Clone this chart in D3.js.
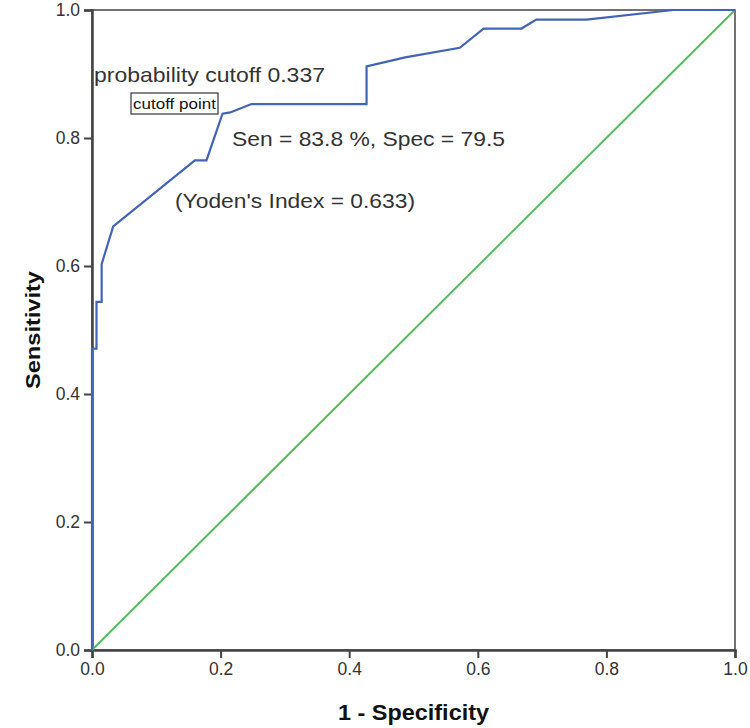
<!DOCTYPE html>
<html>
<head>
<meta charset="utf-8">
<title>ROC curve</title>
<script src="https://d3js.org/d3.v7.min.js"></script>
<style>
body { margin: 0; background: #fff; }
text { font-family: "Liberation Sans", Arial, sans-serif; fill: #333; }
</style>
</head>
<body>
<svg width="750" height="728"></svg>
<script>
// ROC points (1 - specificity, sensitivity)
var fpr  = [0, 0, 0.007, 0.007, 0.015, 0.015, 0.033, 0.160, 0.178, 0.203, 0.215, 0.248, 0.427, 0.427, 0.487, 0.572, 0.609, 0.668, 0.691, 0.769, 0.904, 1];
var sens = [0, 0.471, 0.471, 0.544, 0.544, 0.603, 0.662, 0.765, 0.765, 0.838, 0.840, 0.853, 0.853, 0.912, 0.926, 0.941, 0.971, 0.971, 0.985, 0.985, 1.0, 1];
var ticks = [0, 0.2, 0.4, 0.6, 0.8, 1.0];

var svg = d3.select("svg");

var x = d3.scaleLinear().domain([0, 1]).range([92, 735]);
var y = d3.scaleLinear().domain([0, 1]).range([650, 10]);

// frame
svg.append("rect")
  .attr("x", x(0)).attr("y", y(1))
  .attr("width", x(1) - x(0)).attr("height", y(0) - y(1))
  .attr("fill", "none").attr("stroke", "#444").attr("stroke-width", 1.5);

var xAxis = svg.append("g")
  .attr("transform", "translate(0," + y(0) + ")")
  .call(d3.axisBottom(x).tickValues(ticks).tickFormat(d3.format(".1f")).tickSize(8).tickPadding(5));
var yAxis = svg.append("g")
  .attr("transform", "translate(" + x(0) + ",0)")
  .call(d3.axisLeft(y).tickValues(ticks).tickFormat(d3.format(".1f")).tickSize(8).tickPadding(4));

[xAxis, yAxis].forEach(function(g) {
  g.attr("font-size", 17.5);
  g.select(".domain").attr("stroke", "#444").attr("stroke-width", 2.5);
  g.selectAll(".tick line").attr("stroke", "#444").attr("stroke-width", 2);
  g.selectAll(".tick text").style("fill", "#333");
});

// reference diagonal
svg.append("line")
  .attr("x1", x(0)).attr("y1", y(0))
  .attr("x2", x(1)).attr("y2", y(1))
  .attr("stroke", "#55bb5e").attr("stroke-width", 2);

// roc curve
var pts = fpr.map(function(d, i) { return [d, sens[i]]; });
svg.append("path")
  .datum(pts)
  .attr("fill", "none")
  .attr("stroke", "#4264b6")
  .attr("stroke-width", 2.2)
  .attr("d", d3.line().x(function(d) { return x(d[0]); }).y(function(d) { return y(d[1]); }));

// axis titles
svg.append("text")
  .attr("x", (x(0) + x(1)) / 2).attr("y", 720)
  .attr("text-anchor", "middle")
  .attr("font-size", 22).attr("font-weight", "bold").style("fill", "#111")
  .attr("textLength", 151).attr("lengthAdjust", "spacingAndGlyphs")
  .text("1 - Specificity");

svg.append("text")
  .attr("transform", "translate(40," + ((y(0) + y(1)) / 2) + ") rotate(-90)")
  .attr("text-anchor", "middle")
  .attr("font-size", 21).attr("font-weight", "bold").style("fill", "#111")
  .attr("textLength", 118).attr("lengthAdjust", "spacingAndGlyphs")
  .text("Sensitivity");

// annotations
function note(tx, ty, size, len, str) {
  return svg.append("text").attr("x", tx).attr("y", ty).attr("font-size", size)
    .attr("textLength", len).attr("lengthAdjust", "spacingAndGlyphs")
    .text(str);
}

note(94, 82, 21, 231, "probability cutoff 0.337");

svg.append("rect").attr("x", 131).attr("y", 93).attr("width", 87).attr("height", 21)
  .attr("fill", "#fff").attr("stroke", "#333").attr("stroke-width", 1.2);
note(133, 109, 14, 83, "cutoff point").style("fill", "#111");

note(232, 146, 21, 273, "Sen = 83.8 %, Spec = 79.5");
note(175, 208, 21, 240, "(Yoden's Index = 0.633)");
</script>
</body>
</html>
